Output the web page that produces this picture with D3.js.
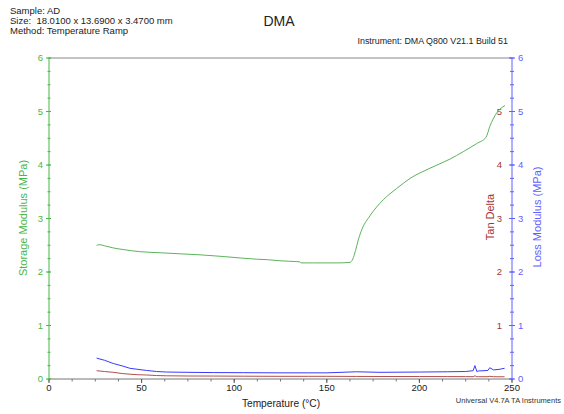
<!DOCTYPE html>
<html>
<head>
<meta charset="utf-8">
<script src="https://cdn.jsdelivr.net/npm/d3@7"></script>
<style>
  body { margin: 0; background: #fff; }
  text { font-family: "Liberation Sans", Arial, sans-serif; }
</style>
</head>
<body>
<script>
// storage modulus (green)
let storageTemp = [25.7, 27.5, 30, 34.7, 40, 49, 60, 70.7, 82, 94, 104, 112, 118, 124.7, 130, 135.5, 136, 142.7, 150, 156, 162.5,
  164, 165.5, 167, 169, 173.3, 180.5, 187.7, 195, 205.7, 216.5, 223.7, 230.9, 236, 238, 241.7, 244, 246.2];
let storage = [2.50, 2.51, 2.49, 2.45, 2.42, 2.38, 2.36, 2.34, 2.32, 2.29, 2.26, 2.24, 2.23, 2.21, 2.20, 2.19, 2.17, 2.17, 2.17, 2.17, 2.18,
  2.24, 2.40, 2.60, 2.80, 3.05, 3.35, 3.56, 3.75, 3.94, 4.11, 4.25, 4.40, 4.52, 4.72, 4.97, 5.06, 5.11];

// loss modulus (blue) and tan delta (red)
let lossTemp = [25.7, 30, 34.7, 40, 43.7, 48, 52.7, 58, 63.5, 75, 88.7, 105, 124.7, 140, 150, 166, 178.7, 200, 215, 225, 229, 230, 231, 232, 237, 238, 240, 243, 246];
let loss = [0.39, 0.35, 0.29, 0.24, 0.20, 0.18, 0.16, 0.14, 0.13, 0.125, 0.12, 0.118, 0.115, 0.115, 0.115, 0.135, 0.125, 0.13, 0.135, 0.14, 0.155, 0.25, 0.14, 0.15, 0.16, 0.21, 0.17, 0.18, 0.20];
let tanDelta = [0.155, 0.14, 0.125, 0.10, 0.09, 0.08, 0.075, 0.065, 0.06, 0.056, 0.055, 0.052, 0.05, 0.05, 0.05, 0.048, 0.047, 0.046, 0.045, 0.044, 0.043, 0.06, 0.043, 0.043, 0.043, 0.05, 0.043, 0.042, 0.042];

let xTicks = [0, 50, 100, 150, 200, 250];
let yTicks = [0, 1, 2, 3, 4, 5, 6];

let headerLines = ["Sample: AD", "Size:  18.0100 x 13.6900 x 3.4700 mm", "Method: Temperature Ramp"];

let margin = null, width = null, height = null;
let svg = null;
let x, y = null;

let green = "#49b649", greenLine = "#5cb35c", blue = "#6060ff", blueLine = "#3a3aff", red = "#a83232", redLine = "#b05050";

main();

function main() {
  setupCanvasSize();
  appendSvg("body");
  setupScales();
  appendFrame();
  appendXAxis();
  appendLeftAxis();
  appendRightAxis();
  appendLines();
  addTexts();
}

function setupCanvasSize() {
  margin = { top: 58, left: 49, bottom: 35, right: 52 };
  width = 564 - margin.left - margin.right;
  height = 414 - margin.top - margin.bottom;
}

function appendSvg(domElement) {
  svg = d3.select(domElement).append("svg")
    .attr("width", 564)
    .attr("height", 414)
    .append("g")
    .attr("transform", `translate(${margin.left}, ${margin.top})`);
}

function setupScales() {
  x = d3.scaleLinear().domain([0, 250]).range([0, width]);
  y = d3.scaleLinear().domain([0, 6]).range([height, 0]);
}

function appendFrame() {
  svg.append("line")
    .attr("x1", 0).attr("x2", width).attr("y1", 0).attr("y2", 0)
    .attr("stroke", "#888").attr("stroke-width", 1);
}

function appendXAxis() {
  let g = svg.append("g").attr("transform", `translate(0, ${height})`);
  g.append("line").attr("x1", 0).attr("x2", width).attr("stroke", "#777");
  // minor ticks
  g.selectAll(".minor").data(d3.range(0, 250.1, 12.5)).enter().append("line")
    .attr("x1", d => x(d)).attr("x2", d => x(d))
    .attr("y1", 0).attr("y2", 2.5).attr("stroke", "#777");
  g.selectAll(".major").data(xTicks).enter().append("line")
    .attr("x1", d => x(d)).attr("x2", d => x(d))
    .attr("y1", 0).attr("y2", 4).attr("stroke", "#555");
  g.selectAll(".lab").data(xTicks).enter().append("text")
    .attr("x", d => x(d)).attr("y", 12)
    .attr("text-anchor", "middle").style("font-size", "9.5px").attr("fill", "#222")
    .text(d => d);
}

function appendLeftAxis() {
  let g = svg.append("g");
  g.append("line").attr("y1", 0).attr("y2", height).attr("stroke", green);
  g.selectAll(".minor").data(d3.range(0, 6.01, 0.25)).enter().append("line")
    .attr("x1", -1.5).attr("x2", 1.5)
    .attr("y1", d => y(d)).attr("y2", d => y(d)).attr("stroke", green);
  g.selectAll(".major").data(yTicks).enter().append("line")
    .attr("x1", -3).attr("x2", 2)
    .attr("y1", d => y(d)).attr("y2", d => y(d)).attr("stroke", green);
  g.selectAll(".lab").data(yTicks).enter().append("text")
    .attr("x", -6).attr("y", d => y(d) + 3.3)
    .attr("text-anchor", "end").style("font-size", "9.5px").attr("fill", green)
    .text(d => d);
}

function appendRightAxis() {
  let g = svg.append("g").attr("transform", `translate(${width}, 0)`);
  g.append("line").attr("y1", 0).attr("y2", height).attr("stroke", blue);
  g.selectAll(".minor").data(d3.range(0, 6.01, 0.25)).enter().append("line")
    .attr("x1", -2).attr("x2", 2)
    .attr("y1", d => y(d)).attr("y2", d => y(d)).attr("stroke", blue);
  g.selectAll(".major").data(yTicks).enter().append("line")
    .attr("x1", -3).attr("x2", 3)
    .attr("y1", d => y(d)).attr("y2", d => y(d)).attr("stroke", blue);
  // tan delta labels (left of axis)
  g.selectAll(".labT").data(yTicks.filter(d => d > 0 && d < 6)).enter().append("text")
    .attr("x", -10).attr("y", d => y(d) + 3.3)
    .attr("text-anchor", "end").style("font-size", "9.5px").attr("fill", red)
    .text(d => d);
  // loss modulus labels (right of axis)
  g.selectAll(".labL").data(yTicks).enter().append("text")
    .attr("x", 6).attr("y", d => y(d) + 3.3)
    .attr("text-anchor", "start").style("font-size", "9.5px").attr("fill", blue)
    .text(d => d);
}

function appendLines() {
  let storageLine = d3.line()
    .x((d, i) => x(storageTemp[i]))
    .y(d => y(d))
    .curve(d3.curveMonotoneX);
  let lossLine = d3.line()
    .x((d, i) => x(lossTemp[i]))
    .y(d => y(d));

  svg.append("path").datum(tanDelta)
    .attr("d", lossLine).attr("fill", "none").attr("stroke", redLine).attr("stroke-width", 1);
  svg.append("path").datum(loss)
    .attr("d", lossLine).attr("fill", "none").attr("stroke", blueLine).attr("stroke-width", 1);
  svg.append("path").datum(storage)
    .attr("d", storageLine).attr("fill", "none").attr("stroke", greenLine).attr("stroke-width", 1);
}

function addTexts() {
  let top = d3.select("svg");
  top.selectAll(".hdr").data(headerLines).enter().append("text")
    .attr("x", 10).attr("y", (d, i) => 14 + i * 9.8)
    .style("font-size", "9.5px").attr("fill", "#222")
    .attr("xml:space", "preserve").style("white-space", "pre")
    .text(d => d);

  top.append("text")
    .attr("x", 279).attr("y", 26)
    .attr("text-anchor", "middle").style("font-size", "14px").attr("fill", "#222")
    .text("DMA");

  top.append("text")
    .attr("x", 508).attr("y", 44)
    .attr("text-anchor", "end").style("font-size", "8.9px").attr("fill", "#222")
    .text("Instrument: DMA Q800 V21.1 Build 51");

  top.append("text")
    .attr("x", 281).attr("y", 407)
    .attr("text-anchor", "middle").style("font-size", "10.2px").attr("fill", "#222")
    .text("Temperature (°C)");

  top.append("text")
    .attr("x", 561).attr("y", 403)
    .attr("text-anchor", "end").style("font-size", "7.5px").attr("fill", "#333")
    .text("Universal V4.7A TA Instruments");

  top.append("text")
    .attr("transform", "translate(27, 218) rotate(-90)")
    .attr("text-anchor", "middle").style("font-size", "11px").attr("fill", green)
    .text("Storage Modulus (MPa)");

  top.append("text")
    .attr("transform", "translate(494, 217) rotate(-90)")
    .attr("text-anchor", "middle").style("font-size", "11px").attr("fill", red)
    .text("Tan Delta");

  top.append("text")
    .attr("transform", "translate(541, 217) rotate(-90)")
    .attr("text-anchor", "middle").style("font-size", "11px").attr("fill", blue)
    .text("Loss Modulus (MPa)");
}
</script>
</body>
</html>
